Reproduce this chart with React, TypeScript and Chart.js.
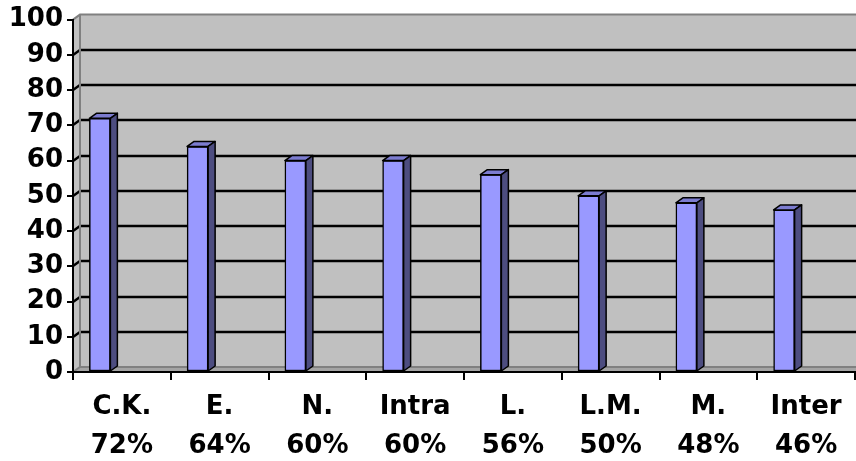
import React, { useEffect, useRef } from 'react';
import { Chart, registerables } from 'chart.js';

Chart.register(...registerables);

const categories = ['C.K.', 'E.', 'N.', 'Intra', 'L.', 'L.M.', 'M.', 'Inter'];
const percentLabels = ['72%', '64%', '60%', '60%', '56%', '50%', '48%', '46%'];
const values = [72, 64, 60, 60, 56, 50, 48, 46];
const yMin = 0;
const yMax = 100;
const yStep = 10;

const DX = 7;
const DY = -5;
const BAR_SHIFT = -22;
const FRONT = '#9999FF';
const TOP = '#7C7CD0';
const SIDE = '#4D4D80';
const WALL = '#C0C0C0';
const FLOOR = '#A4A4A4';
const EDGE = '#808080';

const wallPlugin = {
  id: 'wall3d',
  beforeDraw(chart: any) {
    const { ctx, chartArea, scales } = chart;
    const { left, top, bottom } = chartArea;
    const W = chart.width;
    const y = scales.y;
    ctx.save();
    ctx.fillStyle = WALL;
    ctx.fillRect(left + DX, top + DY, W - (left + DX), bottom - top);
    ctx.beginPath();
    ctx.moveTo(left, bottom);
    ctx.lineTo(left, top);
    ctx.lineTo(left + DX, top + DY);
    ctx.lineTo(left + DX, bottom + DY);
    ctx.closePath();
    ctx.fill();
    ctx.fillStyle = FLOOR;
    ctx.beginPath();
    ctx.moveTo(left, bottom);
    ctx.lineTo(left + DX, bottom + DY);
    ctx.lineTo(W, bottom + DY);
    ctx.lineTo(W, bottom);
    ctx.closePath();
    ctx.fill();
    ctx.strokeStyle = '#000';
    ctx.lineWidth = 2.5;
    y.ticks.forEach((t: any) => {
      if (t.value <= yMin || t.value >= yMax) return;
      const py = Math.round(y.getPixelForValue(t.value));
      ctx.beginPath();
      ctx.moveTo(left, py);
      ctx.lineTo(left + DX, py + DY);
      ctx.lineTo(W, py + DY);
      ctx.stroke();
    });
    ctx.strokeStyle = EDGE;
    ctx.lineWidth = 2;
    ctx.beginPath();
    ctx.moveTo(left, top);
    ctx.lineTo(left + DX, top + DY);
    ctx.lineTo(W, top + DY);
    ctx.moveTo(left + DX, top + DY);
    ctx.lineTo(left + DX, bottom + DY);
    ctx.moveTo(left, bottom);
    ctx.lineTo(left + DX, bottom + DY);
    ctx.lineTo(W, bottom + DY);
    ctx.stroke();
    ctx.restore();
  },
};

const barPlugin = {
  id: 'bar3d',
  beforeDatasetDraw(chart: any) {
    chart.ctx.save();
    chart.ctx.translate(BAR_SHIFT, 0);
  },
  afterDatasetDraw(chart: any, args: any) {
    const ctx = chart.ctx;
    args.meta.data.forEach((el: any) => {
      const { x, y, base, width } = el.getProps(['x', 'y', 'base', 'width'], true);
      const l = x - width / 2;
      const r = x + width / 2;
      ctx.lineWidth = 1.5;
      ctx.strokeStyle = '#000';
      ctx.lineJoin = 'round';
      ctx.fillStyle = TOP;
      ctx.beginPath();
      ctx.moveTo(l, y);
      ctx.lineTo(l + DX, y + DY);
      ctx.lineTo(r + DX, y + DY);
      ctx.lineTo(r, y);
      ctx.closePath();
      ctx.fill();
      ctx.stroke();
      ctx.fillStyle = SIDE;
      ctx.beginPath();
      ctx.moveTo(r, y);
      ctx.lineTo(r + DX, y + DY);
      ctx.lineTo(r + DX, base + DY);
      ctx.lineTo(r, base);
      ctx.closePath();
      ctx.fill();
      ctx.stroke();
    });
    ctx.restore();
  },
};

const FONT = { family: '"DejaVu Sans", sans-serif', size: 26, weight: 'bold' as const };

export default function App() {
  const ref = useRef<HTMLCanvasElement>(null);
  useEffect(() => {
    if (!ref.current) return;
    const chart = new Chart(ref.current, {
      type: 'bar',
      data: {
        labels: categories.map((c, i) => [c, percentLabels[i]]),
        datasets: [
          {
            data: values,
            backgroundColor: FRONT,
            borderColor: '#000',
            borderWidth: 1.5,
            borderSkipped: false,
            barThickness: 21,
          },
        ],
      },
      options: {
        responsive: false,
        animation: false,
        devicePixelRatio: 1,
        layout: { padding: { top: 19, right: 1, left: 0, bottom: 0 } },
        plugins: { legend: { display: false }, tooltip: { enabled: false } },
        scales: {
          x: {
            offset: true,
            grid: {
              display: true,
              drawOnChartArea: false,
              drawTicks: true,
              tickLength: 8,
              color: '#000',
              lineWidth: 2,
              offset: true,
            },
            border: { display: true, color: '#000', width: 2 },
            ticks: {
              color: '#000',
              font: { ...FONT, lineHeight: 1.5 },
              maxRotation: 0,
              autoSkip: false,
              padding: 8,
            },
            afterFit: (s: any) => {
              s.height = 89;
            },
          },
          y: {
            min: yMin,
            max: yMax,
            grid: {
              display: true,
              drawOnChartArea: false,
              drawTicks: true,
              tickLength: 6,
              color: '#000',
              lineWidth: 2,
            },
            border: { display: true, color: '#000', width: 2 },
            ticks: {
              stepSize: yStep,
              color: '#000',
              font: FONT,
              padding: 4,
            },
            afterFit: (s: any) => {
              s.width = 73;
            },
          },
        },
      },
      plugins: [wallPlugin, barPlugin],
    } as any);
    return () => chart.destroy();
  }, []);
  return (
    <div style={{ position: 'fixed', left: 0, top: 0, width: 856, height: 461, background: '#fff' }}>
      <canvas ref={ref} width={856} height={461} style={{ display: 'block' }} />
    </div>
  );
}
